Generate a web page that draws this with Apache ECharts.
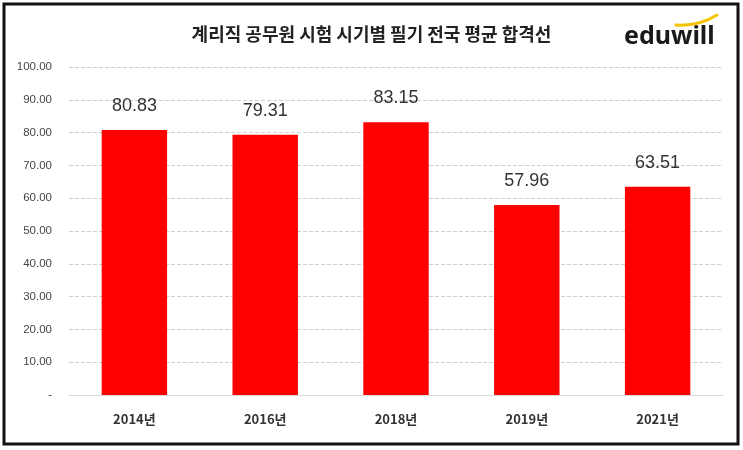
<!DOCTYPE html>
<html>
<head>
<meta charset="utf-8">
<script src="https://cdn.jsdelivr.net/npm/echarts@6/dist/echarts.min.js"></script>
<style>
	html, body { margin: 0; padding: 0; background: #fff; }
	#chart { width: 743px; height: 450px; }
</style>
</head>
<body>
<div id="chart"></div>
<script>
	var years = ['2014년', '2016년', '2018년', '2019년', '2021년'];
	var cutoff = [80.83, 79.31, 83.15, 57.96, 63.51];
	var yTicks = [0, 10, 20, 30, 40, 50, 60, 70, 80, 90, 100];

	var chart = echarts.init(document.getElementById('chart'));
	chart.setOption({
		backgroundColor: '#fff',
		animation: false,
		title: {
			text: '계리직 공무원 시험 시기별 필기 전국 평균 합격선',
			left: 'center',
			top: 20,
			textStyle: {
				fontFamily: 'Noto Sans CJK KR',
				fontSize: 18,
				fontWeight: 'bold',
				color: '#222'
			}
		},
		graphic: [{
			type: 'rect',
			shape: { x: 4, y: 4, width: 734, height: 440 },
			style: { fill: 'none', stroke: '#111', lineWidth: 3 }
		}, {
			type: 'text',
			left: 624,
			top: 24,
			style: {
				text: 'eduwill',
				fontFamily: 'Noto Sans',
				fontSize: 25,
				fontWeight: 'bold',
				fill: '#1a1a1a'
			}
		}, {
			type: 'bezierCurve',
			shape: { x1: 676, y1: 25, x2: 717, y2: 15, cpx1: 692, cpy1: 26, cpx2: 706, cpy2: 22 },
			style: { stroke: '#f5c400', lineWidth: 3, fill: 'none', lineCap: 'round' }
		}],
		grid: {
			left: 69,
			right: 20,
			top: 67,
			bottom: 55
		},
		xAxis: {
			type: 'category',
			data: years,
			axisTick: { show: false },
			axisLine: { lineStyle: { color: '#d9d9d9', width: 1 } },
			axisLabel: {
				margin: 18,
				fontFamily: 'Noto Sans CJK KR',
				fontSize: 13,
				fontWeight: 'bold',
				color: '#333'
			}
		},
		yAxis: {
			type: 'value',
			min: yTicks[0],
			max: yTicks[yTicks.length - 1],
			interval: 10,
			axisLine: { show: false },
			axisTick: { show: false },
			splitLine: { lineStyle: { color: '#d0d0d0', type: 'dashed' } },
			axisLabel: {
				margin: 17,
				fontFamily: 'Liberation Sans',
				fontSize: 11.5,
				color: '#444',
				formatter: function (v) {
					return v === 0 ? '-' : v.toFixed(2);
				}
			}
		},
		series: [{
			type: 'bar',
			data: cutoff,
			barWidth: '50%',
			itemStyle: { color: '#ff0000' },
			label: {
				show: true,
				position: 'top',
				distance: 15,
				fontFamily: 'Liberation Sans',
				fontSize: 18,
				color: '#333',
				formatter: function (p) {
					return p.value.toFixed(2);
				}
			}
		}]
	});
</script>
</body>
</html>
